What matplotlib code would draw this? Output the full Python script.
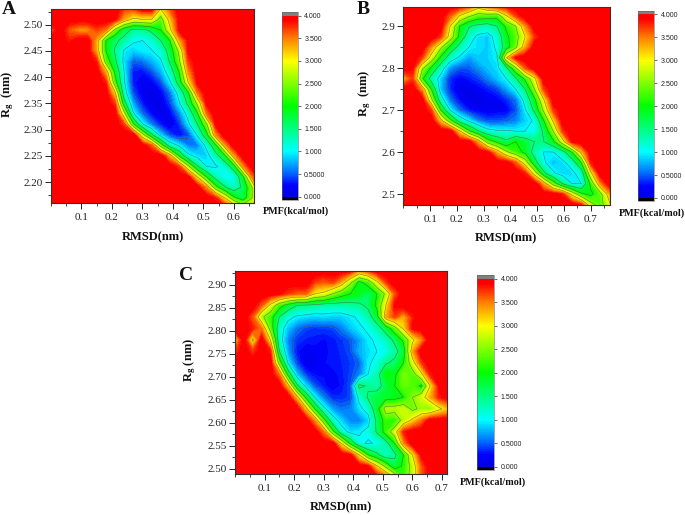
import numpy as np
import matplotlib
matplotlib.use('Agg')
import matplotlib.pyplot as plt
from matplotlib.colors import LinearSegmentedColormap, Normalize
from matplotlib.cm import ScalarMappable
from matplotlib.ticker import MultipleLocator

plt.rcParams['font.family'] = ['Liberation Serif', 'DejaVu Serif']
plt.rcParams['mathtext.fontset'] = 'custom'
plt.rcParams['mathtext.bf'] = 'Liberation Serif:bold'
plt.rcParams['mathtext.rm'] = 'Liberation Serif'

W, H = 685, 515

xA = [0.03 * i for i in range(24)]
yA = [2.53, 2.51, 2.49, 2.47, 2.45, 2.43, 2.41, 2.39, 2.37, 2.35, 2.33, 2.31, 2.29, 2.27, 2.25, 2.23, 2.21, 2.19, 2.17, 2.15]
pmfA = [
    [4, 4, 4, 4, 4, 4, 4, 4, 3.7, 3.7, 4, 4, 3.0, 3.6, 4, 4, 4, 4, 4, 4, 4, 4, 4, 4],
    [4, 4, 4, 4, 4, 4, 4, 3.9, 3.3, 2.9, 3.0, 3.0, 2.3, 3.2, 3.9, 4, 4, 4, 4, 4, 4, 4, 4, 4],
    [3.6, 4, 3.6, 3.4, 3.4, 3.7, 3.5, 2.4, 1.7, 1.4, 1.4, 1.6, 2.0, 2.9, 3.9, 4, 4, 4, 4, 4, 4, 4, 4, 4],
    [4, 4, 3.8, 4, 4, 3.3, 2.0, 1.6, 1.35, 1.05, 1.0, 1.15, 1.5, 2.0, 3.3, 3.9, 4, 4, 4, 4, 4, 4, 4, 4],
    [4, 4, 4, 4, 4, 3.3, 2.0, 1.45, 0.95, 0.85, 0.95, 0.98, 1.15, 1.7, 2.6, 3.9, 4, 4, 4, 4, 4, 4, 4, 4],
    [4, 4, 4, 4, 4, 3.8, 2.3, 1.6, 0.9, 0.5, 0.55, 0.75, 0.95, 1.55, 2.4, 3.7, 4, 4, 4, 4, 4, 4, 4, 4],
    [4, 4, 4, 4, 4, 4, 3.3, 1.9, 1.0, 0.3, 0.28, 0.45, 0.75, 1.2, 2.0, 3.4, 4, 4, 4, 4, 4, 4, 4, 4],
    [4, 4, 4, 4, 4, 4, 3.8, 2.2, 1.05, 0.3, 0.15, 0.2, 0.45, 0.95, 1.7, 3.0, 3.9, 4, 4, 4, 4, 4, 4, 4],
    [4, 4, 4, 4, 4, 4, 4, 3.1, 1.2, 0.45, 0.15, 0.08, 0.2, 0.55, 1.15, 1.9, 3.5, 4, 4, 4, 4, 4, 4, 4],
    [4, 4, 4, 4, 4, 4, 4, 3.7, 1.7, 0.7, 0.3, 0.08, 0.1, 0.4, 0.95, 1.6, 2.6, 3.9, 4, 4, 4, 4, 4, 4],
    [4, 4, 4, 4, 4, 4, 4, 4, 2.7, 1.05, 0.55, 0.25, 0.1, 0.2, 0.6, 1.15, 1.9, 3.5, 4, 4, 4, 4, 4, 4],
    [4, 4, 4, 4, 4, 4, 4, 4, 3.7, 2.1, 1.05, 0.6, 0.3, 0.1, 0.35, 0.9, 1.5, 2.4, 3.9, 4, 4, 4, 4, 4],
    [4, 4, 4, 4, 4, 4, 4, 4, 4, 4, 2.7, 1.6, 0.85, 0.45, 0.25, 0.45, 1.05, 1.8, 3.4, 4, 4, 4, 4, 4],
    [4, 4, 4, 4, 4, 4, 4, 4, 4, 4, 4, 3.6, 2.3, 1.25, 0.95, 0.6, 0.6, 1.1, 1.9, 3.3, 4, 4, 4, 4],
    [4, 4, 4, 4, 4, 4, 4, 4, 4, 4, 4, 4, 4, 3.3, 2.0, 1.1, 0.9, 0.85, 1.3, 1.9, 3.3, 4, 4, 4],
    [4, 4, 4, 4, 4, 4, 4, 4, 4, 4, 4, 4, 4, 4, 3.7, 2.6, 1.55, 1.0, 0.95, 1.15, 1.8, 3.4, 4, 4],
    [4, 4, 4, 4, 4, 4, 4, 4, 4, 4, 4, 4, 4, 4, 4, 3.9, 3.0, 2.0, 1.3, 1.0, 1.05, 1.9, 3.5, 4],
    [4, 4, 4, 4, 4, 4, 4, 4, 4, 4, 4, 4, 4, 4, 4, 4, 4, 3.4, 2.2, 1.55, 1.2, 1.6, 2.5, 4],
    [4, 4, 4, 4, 4, 4, 4, 4, 4, 4, 4, 4, 4, 4, 4, 4, 4, 4, 3.8, 3.0, 2.1, 1.7, 2.5, 4],
    [4, 4, 4, 4, 4, 4, 4, 4, 4, 4, 4, 4, 4, 4, 4, 4, 4, 4, 4, 4, 3.6, 3.0, 3.0, 4],
]

xB = [0.035 * i for i in range(24)]
yB = [2.95, 2.925, 2.90, 2.875, 2.85, 2.825, 2.80, 2.775, 2.75, 2.725, 2.70, 2.675, 2.65, 2.625, 2.60, 2.575, 2.55, 2.525, 2.50, 2.475]
pmfB = [
    [4, 4, 4, 4, 4, 4, 4, 3.8, 3.3, 3.7, 4, 4, 4, 4, 4, 4, 4, 4, 4, 4, 4, 4, 4, 4],
    [4, 4, 4, 4, 4, 3.6, 3.0, 2.6, 2.3, 2.3, 2.2, 3.0, 3.7, 4, 4, 4, 4, 4, 4, 4, 4, 4, 4, 4],
    [4, 4, 4, 4, 4, 3.0, 2.0, 1.55, 1.35, 1.25, 1.5, 2.1, 2.5, 3.4, 4, 4, 4, 4, 4, 4, 4, 4, 4, 4],
    [4, 4, 4, 4, 3.7, 2.8, 1.9, 1.2, 0.9, 0.85, 1.15, 1.9, 2.3, 3.0, 3.7, 4, 4, 4, 4, 4, 4, 4, 4, 4],
    [4, 4, 4, 3.4, 2.6, 1.9, 1.3, 1.0, 0.9, 0.85, 1.05, 1.8, 2.4, 3.3, 4, 4, 4, 4, 4, 4, 4, 4, 4, 4],
    [4, 4, 3.7, 2.8, 1.9, 1.2, 0.95, 0.7, 0.85, 0.85, 0.98, 3.0, 3.9, 4, 4, 4, 4, 4, 4, 4, 4, 4, 4, 4],
    [4, 3.9, 2.6, 1.9, 1.2, 0.65, 0.48, 0.48, 0.65, 0.8, 0.9, 1.4, 2.4, 3.6, 4, 4, 4, 4, 4, 4, 4, 4, 4, 4],
    [3.3, 3.7, 2.1, 1.3, 0.85, 0.35, 0.2, 0.3, 0.4, 0.6, 0.8, 1.0, 1.45, 2.1, 2.9, 4, 4, 4, 4, 4, 4, 4, 4, 4],
    [4, 4, 3.4, 2.0, 0.8, 0.35, 0.1, 0.1, 0.2, 0.3, 0.42, 0.7, 1.0, 1.5, 2.5, 3.7, 4, 4, 4, 4, 4, 4, 4, 4],
    [4, 4, 4, 2.6, 1.2, 0.55, 0.25, 0.08, 0.05, 0.15, 0.2, 0.35, 0.55, 1.15, 1.9, 3.0, 4, 4, 4, 4, 4, 4, 4, 4],
    [4, 4, 4, 3.7, 2.0, 1.0, 0.55, 0.3, 0.2, 0.15, 0.2, 0.2, 0.45, 0.95, 1.6, 2.6, 3.7, 4, 4, 4, 4, 4, 4, 4],
    [4, 4, 4, 4, 3.2, 2.2, 1.3, 0.95, 0.6, 0.45, 0.45, 0.5, 0.6, 0.85, 1.05, 2.0, 3.1, 4, 4, 4, 4, 4, 4, 4],
    [4, 4, 4, 4, 4, 4, 3.1, 2.1, 1.55, 1.15, 1.05, 1.05, 1.0, 1.0, 1.05, 1.6, 2.5, 3.7, 4, 4, 4, 4, 4, 4],
    [4, 4, 4, 4, 4, 4, 4, 4, 3.3, 2.3, 1.9, 1.6, 2.0, 1.75, 1.5, 1.5, 1.9, 2.8, 3.9, 4, 4, 4, 4, 4],
    [4, 4, 4, 4, 4, 4, 4, 4, 4, 3.9, 3.3, 2.6, 2.2, 1.9, 1.3, 0.98, 0.98, 1.3, 2.0, 3.2, 4, 4, 4, 4],
    [4, 4, 4, 4, 4, 4, 4, 4, 4, 4, 4, 4, 3.6, 2.8, 1.7, 1.05, 0.8, 0.9, 1.2, 2.0, 3.8, 4, 4, 4],
    [4, 4, 4, 4, 4, 4, 4, 4, 4, 4, 4, 4, 4, 3.8, 2.8, 1.6, 1.05, 0.85, 0.9, 1.2, 2.9, 4, 4, 4],
    [4, 4, 4, 4, 4, 4, 4, 4, 4, 4, 4, 4, 4, 4, 4, 3.3, 2.3, 1.5, 1.0, 1.0, 2.1, 3.4, 4, 4],
    [4, 4, 4, 4, 4, 4, 4, 4, 4, 4, 4, 4, 4, 4, 4, 4, 4, 3.8, 2.9, 2.1, 1.9, 2.3, 3.3, 4],
    [4, 4, 4, 4, 4, 4, 4, 4, 4, 4, 4, 4, 4, 4, 4, 4, 4, 4, 4, 3.8, 2.7, 2.3, 2.9, 4],
]

xC = [0.03 * i for i in range(25)]
yC = [2.93, 2.905, 2.88, 2.855, 2.83, 2.805, 2.78, 2.755, 2.73, 2.705, 2.68, 2.655, 2.63, 2.605, 2.58, 2.555, 2.53, 2.505, 2.48]
pmfC = [
    [4, 4, 4, 4, 4, 4, 4, 4, 4, 4, 4, 4, 4, 3.9, 3.4, 3.7, 4, 4, 4, 4, 4, 4, 4, 4, 4],
    [4, 4, 4, 4, 4, 4, 4, 4, 4, 3.7, 3.6, 3.7, 3.3, 2.6, 1.9, 2.2, 2.9, 3.7, 4, 4, 4, 4, 4, 4, 4],
    [4, 4, 4, 4, 4, 3.9, 3.7, 3.6, 3.6, 3.0, 2.9, 2.5, 2.2, 2.0, 1.9, 1.6, 2.0, 2.6, 3.6, 4, 4, 4, 4, 4, 4],
    [4, 4, 4, 3.6, 2.9, 2.2, 1.8, 1.5, 1.45, 1.4, 1.3, 1.3, 1.3, 1.35, 1.4, 1.6, 2.1, 3.0, 3.9, 4, 4, 4, 4, 4, 4],
    [4, 4, 3.6, 2.6, 2.2, 1.5, 1.1, 0.95, 0.9, 0.85, 0.9, 0.85, 0.85, 0.95, 1.05, 1.3, 1.8, 3.3, 3.7, 3.3, 3.8, 4, 4, 4, 4],
    [4, 4, 3.8, 3.5, 2.3, 1.2, 0.8, 0.55, 0.42, 0.38, 0.4, 0.42, 0.58, 0.8, 0.95, 1.05, 1.3, 1.7, 2.3, 3.1, 3.9, 4, 4, 4, 4],
    [3.2, 4, 2.9, 4, 3.0, 1.2, 0.6, 0.38, 0.32, 0.3, 0.25, 0.3, 0.38, 0.48, 0.7, 0.95, 1.05, 1.25, 1.6, 2.1, 2.9, 3.4, 4, 4, 4],
    [3.7, 4, 3.7, 4, 3.8, 1.5, 0.7, 0.28, 0.15, 0.22, 0.25, 0.28, 0.35, 0.45, 0.75, 0.9, 1.0, 1.05, 1.35, 1.75, 3.3, 4, 4, 4, 4],
    [4, 4, 4, 4, 4, 2.3, 0.95, 0.42, 0.1, 0.15, 0.25, 0.3, 0.33, 0.4, 0.5, 0.95, 1.1, 1.45, 1.6, 2.0, 2.8, 3.7, 4, 4, 4],
    [4, 4, 4, 4, 4, 3.5, 1.8, 0.8, 0.4, 0.25, 0.25, 0.22, 0.3, 0.42, 0.6, 1.0, 1.3, 2.0, 1.9, 2.5, 2.3, 2.9, 3.8, 4, 4],
    [4, 4, 4, 4, 4, 4, 3.2, 1.6, 0.9, 0.48, 0.3, 0.18, 0.28, 0.45, 1.6, 1.45, 1.3, 1.7, 2.0, 2.4, 2.3, 1.9, 3.0, 3.9, 4],
    [4, 4, 4, 4, 4, 4, 4, 3.2, 1.9, 1.0, 0.6, 0.35, 0.35, 0.42, 1.1, 1.55, 1.75, 1.8, 1.85, 2.0, 2.5, 2.8, 3.3, 3.8, 4],
    [4, 4, 4, 4, 4, 4, 4, 4, 3.2, 2.0, 1.1, 0.7, 0.55, 0.6, 0.9, 1.15, 1.8, 2.7, 2.7, 2.8, 2.4, 2.6, 2.5, 2.9, 3.2],
    [4, 4, 4, 4, 4, 4, 4, 4, 4, 3.4, 2.2, 1.2, 0.85, 0.62, 0.6, 0.85, 1.6, 2.2, 2.1, 2.7, 3.1, 3.5, 4, 4, 4],
    [4, 4, 4, 4, 4, 4, 4, 4, 4, 4, 3.5, 2.2, 1.2, 0.9, 0.95, 1.1, 1.55, 2.2, 2.8, 3.8, 4, 4, 4, 4, 4],
    [4, 4, 4, 4, 4, 4, 4, 4, 4, 4, 4, 4, 3.0, 1.9, 1.1, 0.95, 1.05, 1.3, 2.0, 3.4, 4, 4, 4, 4, 4],
    [4, 4, 4, 4, 4, 4, 4, 4, 4, 4, 4, 4, 4, 3.9, 3.0, 2.0, 1.6, 1.2, 1.4, 2.0, 3.0, 3.9, 4, 4, 4],
    [4, 4, 4, 4, 4, 4, 4, 4, 4, 4, 4, 4, 4, 4, 4, 3.9, 3.1, 2.4, 1.7, 2.1, 2.7, 3.6, 4, 4, 4],
    [4, 4, 4, 4, 4, 4, 4, 4, 4, 4, 4, 4, 4, 4, 4, 4, 4, 3.7, 3.0, 2.2, 2.7, 3.6, 4, 4, 4],
]

xTicksA = [0.1, 0.2, 0.3, 0.4, 0.5, 0.6]
xTicksBC = [0.1, 0.2, 0.3, 0.4, 0.5, 0.6, 0.7]
yTicksA = [2.20, 2.25, 2.30, 2.35, 2.40, 2.45, 2.50]
yTicksB = [2.5, 2.6, 2.7, 2.8, 2.9]
yTicksC = [2.50, 2.55, 2.60, 2.65, 2.70, 2.75, 2.80, 2.85, 2.90]
barTicks = [0, 0.5, 1, 1.5, 2, 2.5, 3, 3.5, 4]
barLabels = ['0.000', '0.5000', '1.000', '1.500', '2.000', '2.500', '3.000', '3.500', '4.000']
lineLevels = [0.5, 1, 1.5, 2, 2.5, 3]

pmfMap = LinearSegmentedColormap.from_list('pmf', [
    (0 / 4, '#0000e0'), (0.25 / 4, '#0000ff'), (0.5 / 4, '#0060ff'), (1 / 4, '#00ffff'),
    (1.5 / 4, '#00ff80'), (2 / 4, '#00ff00'), (2.5 / 4, '#80ff00'), (3 / 4, '#ffff00'),
    (3.5 / 4, '#ff8000'), (3.9 / 4, '#ff0000'), (1, '#ff0000')], N=256)
pmfMap.set_over('#808080')
pmfMap.set_under('#000000')

fig = plt.figure(figsize=(W / 100, H / 100), dpi=100)


def box(left, top, right, bottom):
    return [left / W, 1 - bottom / H, (right - left) / W, (bottom - top) / H]


def drawPanel(xx, yy, pmf, axBox, barBox, xlim, ylim, xticks, yticks, yminor, yfmt):
    ax = fig.add_axes(box(*axBox))
    zz = np.array(pmf, dtype=float)
    norm = Normalize(0, 4)
    ax.contourf(xx, yy, zz, levels=np.linspace(0, 4, 61), cmap=pmfMap, norm=norm)
    ax.contour(xx, yy, zz, levels=lineLevels, colors='#505050', linewidths=0.4, alpha=0.75)
    ax.set_xlim(*xlim)
    ax.set_ylim(*ylim)
    ax.set_xticks(xticks)
    ax.set_yticks(yticks)
    ax.xaxis.set_minor_locator(MultipleLocator(0.05))
    ax.yaxis.set_minor_locator(MultipleLocator(yminor))
    ax.yaxis.set_major_formatter(yfmt)
    ax.xaxis.set_major_formatter('{x:.1f}')
    ax.tick_params(which='major', length=4, width=0.7, labelsize=8, pad=2, colors='#222222')
    ax.tick_params(axis='x', which='major', pad=3.5)
    ax.tick_params(which='minor', length=2, width=0.6, colors='#222222')
    for sp in ax.spines.values():
        sp.set_linewidth(0.8)
        sp.set_color('#333333')

    cax = fig.add_axes(box(*barBox))
    bar = fig.colorbar(ScalarMappable(norm=norm, cmap=pmfMap), cax=cax, extend='both',
                       extendfrac=0.018, extendrect=True, ticks=barTicks)
    bar.ax.set_yticklabels(barLabels, family='Liberation Sans', fontsize=5, color='#222222')
    bar.ax.tick_params(length=2.5, width=0.5, pad=2, color='#333333')
    bar.outline.set_linewidth(0.4)
    bar.outline.set_edgecolor('#666666')


def label(xp, yp, text, **kw):
    fig.text(xp / W, 1 - yp / H, text, ha='center', va='center', fontweight='bold', color='#111111', **kw)


drawPanel(xA, yA, pmfA, (51, 9, 254, 203), (282, 12.3, 298, 200), (0, 0.666), (2.16, 2.53), xTicksA, yTicksA, 0.025, '{x:.2f}')
drawPanel(xB, yB, pmfB, (403.3, 7.3, 610, 204.7), (638, 11, 654.3, 201.3), (0, 0.772), (2.475, 2.945), xTicksBC, yTicksB, 0.05, '{x:.1f}')
drawPanel(xC, yC, pmfC, (235, 271.3, 446.7, 473.7), (477.3, 275.3, 494.3, 470.3), (0, 0.716), (2.489, 2.929), xTicksBC, yTicksC, 0.025, '{x:.2f}')

label(9, 9, 'A', fontsize=14)
label(363, 9, 'B', fontsize=14)
label(186, 275, 'C', fontsize=14)

label(153, 237, 'RMSD(nm)', fontsize=9)
label(506, 238, 'RMSD(nm)', fontsize=9)
label(341, 507, 'RMSD(nm)', fontsize=9)

label(8, 94, r'$\mathbf{R_g}$  (nm)', fontsize=9, rotation=90)
label(365, 93, r'$\mathbf{R_g}$  (nm)', fontsize=9, rotation=90)
label(190, 360, r'$\mathbf{R_g}$ (nm)', fontsize=9, rotation=90)

label(296, 211, 'PMF(kcal/mol)', fontsize=7.3)
label(652, 213, 'PMF(kcal/mol)', fontsize=7.3)
label(493, 482, 'PMF(kcal/mol)', fontsize=7.3)

fig.savefig('out.png', dpi=100)
